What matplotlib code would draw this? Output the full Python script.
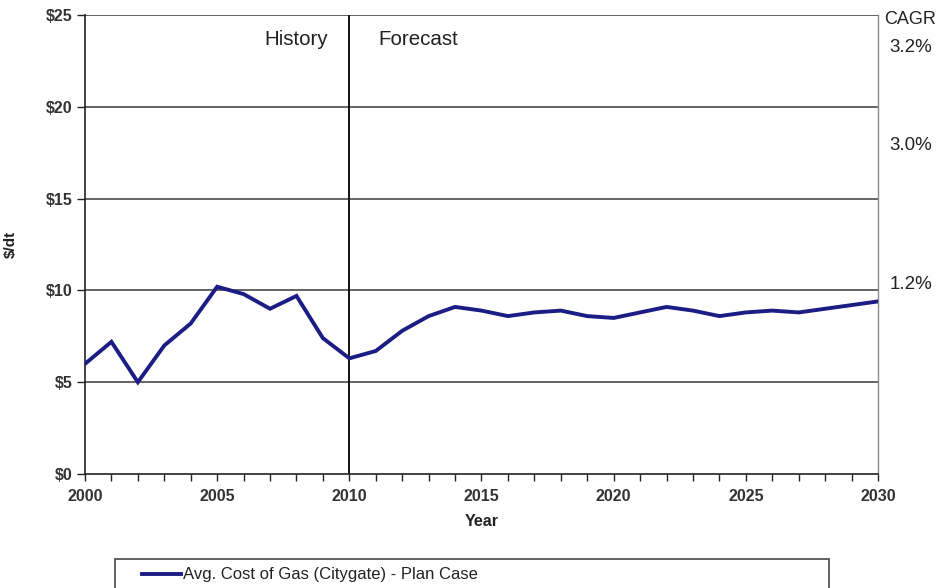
import matplotlib
matplotlib.use("Agg")
import matplotlib.pyplot as plt
from matplotlib.patches import Rectangle
from matplotlib.lines import Line2D
from matplotlib.ticker import MultipleLocator, FuncFormatter

plt.rcParams['font.family'] = ['Liberation Sans', 'DejaVu Sans']

# Average citygate cost of gas, $/dt
years = list(range(2000, 2031))
cost = [6.0, 7.2, 5.0, 7.0, 8.2, 10.2, 9.8, 9.0, 9.7, 7.4,
        6.3, 6.7, 7.8, 8.6, 9.1, 8.9, 8.6, 8.8, 8.9, 8.6,
        8.5, 8.8, 9.1, 8.9, 8.6, 8.8, 8.9, 8.8, 9.0, 9.2, 9.4]

series_label = "Avg. Cost of Gas (Citygate) - Plan Case"
cagr_header = "CAGR"
cagr_values = ["3.2%", "3.0%", "1.2%"]
period_labels = ["History", "Forecast"]
split_year = 2010

line_color = "#1c1c85"

fig = plt.figure(figsize=(9.4, 5.88), dpi=100)
ax = fig.add_axes([85 / 940, 1 - 474 / 588, (878 - 85) / 940, (474 - 15) / 588])

ax.set_xlim(2000, 2030)
ax.set_ylim(0, 25)

# horizontal gridlines
for v in [5, 10, 15, 20, 25]:
    ax.axhline(v, color="#3a3a3a", lw=1.1, zorder=1)
ax.axvline(split_year, color="#111111", lw=1.4, zorder=2)

ax.plot(years, cost, color=line_color, lw=2.8, zorder=3, solid_joinstyle='miter')

ax.spines["top"].set_visible(False)
ax.spines["right"].set_color("#8a8a8a")
ax.spines["right"].set_linewidth(1.0)
ax.spines["left"].set_color("#222222")
ax.spines["bottom"].set_color("#222222")
ax.spines["left"].set_linewidth(1.2)
ax.spines["bottom"].set_linewidth(1.2)

ax.xaxis.set_major_locator(MultipleLocator(5))
ax.xaxis.set_minor_locator(MultipleLocator(1))
ax.yaxis.set_major_locator(MultipleLocator(5))
ax.yaxis.set_major_formatter(FuncFormatter(lambda v, p: f"${v:.0f}"))
ax.tick_params(axis="x", which="both", direction="out", length=5, width=1.0,
               color="#222222", pad=6)
ax.tick_params(axis="y", which="major", direction="out", length=6, width=1.0,
               color="#222222", pad=3)
for lab in ax.get_xticklabels() + ax.get_yticklabels():
    lab.set_fontweight("bold")
    lab.set_fontsize(11.5)
    lab.set_color("#333333")

ax.set_xlabel("Year", fontsize=11.5, fontweight="bold", color="#222222", labelpad=7)
ax.set_ylabel("$/dt", fontsize=11, fontweight="bold", color="#222222", labelpad=20)

ax.text(2009.2, 23.65, period_labels[0], ha="right", va="center", fontsize=14.8, color="#222222")
ax.text(2011.1, 23.65, period_labels[1], ha="left", va="center", fontsize=14.8, color="#222222")

# growth-rate annotations on the right
fig.text(910 / 940, 1 - 20 / 588, cagr_header, ha="center", va="center", fontsize=13, color="#222222")
for txt, ypx in zip(cagr_values, [47, 145, 285]):
    fig.text(911 / 940, 1 - ypx / 588, txt, ha="center", va="center", fontsize=13.5, color="#222222")

# legend box along the bottom edge
fig.patches.append(Rectangle((115 / 940, -0.02), (829 - 115) / 940, (0.02 + 1 - 559 / 588),
                             transform=fig.transFigure, fill=False, edgecolor="#555555",
                             lw=1.3, figure=fig))
fig.lines.append(Line2D([142 / 940, 181 / 940], [1 - 574 / 588] * 2, transform=fig.transFigure,
                        color=line_color, lw=2.8, figure=fig))
fig.text(183 / 940, 1 - 574 / 588, series_label, ha="left", va="center", fontsize=12, color="#222222")

fig.savefig("out.png", dpi=100)
